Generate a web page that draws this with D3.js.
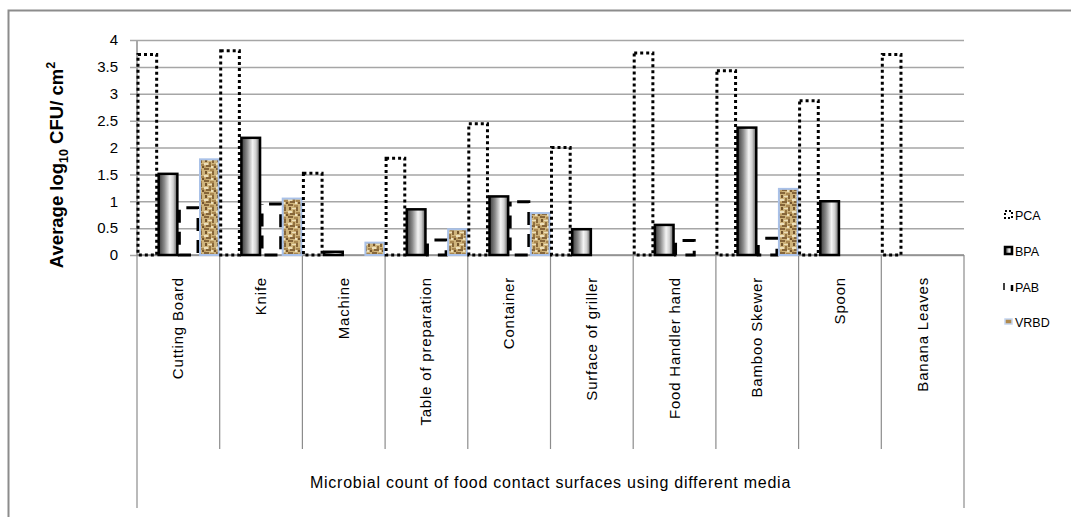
<!DOCTYPE html>
<html>
<head>
<meta charset="utf-8">
<script src="https://cdn.jsdelivr.net/npm/d3@7"></script>
<style>
  html, body { margin: 0; padding: 0; background: #fff; }
  svg { display: block; }
  text { font-family: "Liberation Sans", Arial, sans-serif; fill: #000; }
</style>
</head>
<body>
<svg id="chart" width="1071" height="517"></svg>
<script>
// Surfaces sampled
const categories = ["Cutting Board", "Knife", "Machine", "Table of preparation", "Container",
  "Surface of griller", "Food Handler hand", "Bamboo Skewer", "Spoon", "Banana Leaves"];

// Media
const seriesNames = ["PCA", "BPA", "PAB", "VRBD"];

// Average log10 CFU/cm2 per medium, one value per surface
const pcaValues  = [3.73, 3.80, 1.52, 1.80, 2.44, 2.00, 3.76, 3.43, 2.87, 3.73];
const bpaValues  = [1.51, 2.18, 0.06, 0.85, 1.09, 0.48, 0.56, 2.37, 1.00, 0.00];
const pabValues  = [0.88, 0.95, 0.00, 0.28, 0.99, 0.00, 0.27, 0.31, 0.00, 0.00];
const vrbdValues = [1.78, 1.05, 0.23, 0.48, 0.78, 0.00, 0.00, 1.23, 0.00, 0.00];

const yTicks = [0, 0.5, 1, 1.5, 2, 2.5, 3, 3.5, 4];
const xTitle = "Microbial count of food contact surfaces using different media";

const valuesBySeries = { PCA: pcaValues, BPA: bpaValues, PAB: pabValues, VRBD: vrbdValues };

const svg = d3.select("#chart");
const plot = { left: 137, right: 964, top: 40, bottom: 255 };

// outer frame
svg.append("rect")
  .attr("x", 8.5).attr("y", 10.5).attr("width", 1080).attr("height", 520)
  .attr("fill", "none").attr("stroke", "#8c8c8c").attr("stroke-width", 2);

const defs = svg.append("defs");

// metallic gradient for BPA
const grad = defs.append("linearGradient").attr("id", "bpaGrad")
  .attr("x1", "0%").attr("x2", "100%").attr("y1", "0%").attr("y2", "0%");
[[0, "#3a3a3a"], [0.3, "#8a8a8a"], [0.6, "#f4f4f4"], [0.78, "#d0d0d0"], [1, "#555"]]
  .forEach(([o, c]) => grad.append("stop").attr("offset", o).attr("stop-color", c));

// woven texture for VRBD
const pat = defs.append("pattern").attr("id", "vrbdPat")
  .attr("patternUnits", "userSpaceOnUse").attr("width", 12).attr("height", 12);
pat.append("rect").attr("width", 12).attr("height", 12).attr("fill", "#cfb47c");
const weave = [
  [0, 0, 5, 2, "#86663a"], [6, 1, 4, 2, "#a88650"], [1, 3, 2, 3, "#74552d"],
  [4, 4, 6, 1, "#ede0bc"], [8, 3, 2, 4, "#86663a"], [0, 7, 4, 2, "#ede0bc"],
  [5, 6, 2, 3, "#947340"], [2, 9, 5, 2, "#86663a"], [8, 8, 4, 2, "#a88650"],
  [10, 10, 2, 2, "#74552d"], [0, 10, 2, 2, "#c0a066"], [7, 10, 2, 2, "#ede0bc"]
];
weave.forEach(([x, y, w, h, c]) =>
  pat.append("rect").attr("x", x).attr("y", y).attr("width", w).attr("height", h).attr("fill", c));

const x = d3.scaleBand().domain(categories).range([plot.left, plot.right]).padding(0);
const xs = d3.scaleBand().domain(seriesNames).range([0, x.bandwidth()]).padding(0);
const y = d3.scaleLinear().domain([0, 4]).range([plot.bottom, plot.top]);

// gridlines and value axis
const yAxis = d3.axisLeft(y).tickValues(yTicks).tickSize(-(plot.right - plot.left))
  .tickPadding(12).tickFormat(d3.format("~g"));
const ga = svg.append("g").attr("transform", `translate(${plot.left},0)`).call(yAxis);
ga.select(".domain").attr("stroke", "#8c8c8c").attr("stroke-width", 1.5)
  .attr("d", `M0,${plot.top}V${plot.bottom}`);
ga.selectAll(".tick line").attr("stroke", "#a6a6a6").attr("stroke-width", 1.5).attr("x1", -7);
ga.selectAll(".tick text").attr("font-size", 15).attr("fill", "#333")
  .attr("font-family", "Liberation Sans, Arial, sans-serif").attr("x", -19);

// category box below the baseline
const boundaries = categories.map(c => x(c)).concat([plot.right]);
svg.append("g").selectAll("line").data(boundaries).join("line")
  .attr("x1", d => d).attr("x2", d => d)
  .attr("y1", plot.bottom)
  .attr("y2", (d, i) => (i === 0 || i === boundaries.length - 1) ? 508 : 449)
  .attr("stroke", "#8c8c8c").attr("stroke-width", 1.2);
svg.append("line").attr("x1", plot.left).attr("x2", plot.right)
  .attr("y1", plot.bottom).attr("y2", plot.bottom)
  .attr("stroke", "#8c8c8c").attr("stroke-width", 1.5);

// bars
const styles = {
  PCA:  { fill: "none", stroke: "#000", sw: 3, dash: "3,3", off: 0 },
  BPA:  { fill: "url(#bpaGrad)", stroke: "#000", sw: 2.5, dash: null, off: 0 },
  PAB:  { fill: "none", stroke: "#000", sw: 3, dash: "13,9", off: 15 },
  VRBD: { fill: "url(#vrbdPat)", stroke: "#a9c1e8", sw: 2, dash: null, off: 0 }
};
const barData = [];
categories.forEach((c, i) => seriesNames.forEach(s =>
  barData.push({ cat: c, series: s, value: valuesBySeries[s][i] })));

svg.append("g").selectAll("rect").data(barData.filter(d => d.value > 0)).join("rect")
  .attr("x", d => x(d.cat) + xs(d.series) + 1)
  .attr("width", xs.bandwidth() - 2)
  .attr("y", d => y(d.value))
  .attr("height", d => y(0) - y(d.value))
  .attr("fill", d => styles[d.series].fill)
  .attr("stroke", d => styles[d.series].stroke)
  .attr("stroke-width", d => styles[d.series].sw)
  .attr("stroke-dasharray", d => styles[d.series].dash)
  .attr("stroke-dashoffset", d => styles[d.series].off);

// category labels
svg.append("g").selectAll("text").data(categories).join("text")
  .attr("transform", d => `translate(${x(d) + x.bandwidth() / 2 + 5},277) rotate(-90)`)
  .attr("text-anchor", "end")
  .attr("font-size", 15)
  .attr("letter-spacing", 0.8)
  .text(d => d);

// axis title
svg.append("text").attr("x", (plot.left + plot.right) / 2).attr("y", 488)
  .attr("text-anchor", "middle").attr("font-size", 16).attr("letter-spacing", 0.75).text(xTitle);

// value axis title with subscript and superscript
const yt = svg.append("text")
  .attr("transform", "translate(63,165) rotate(-90)")
  .attr("text-anchor", "middle").attr("font-size", 18.5).attr("font-weight", "bold");
yt.append("tspan").text("Average log");
yt.append("tspan").attr("font-size", 12.5).attr("dy", 5).text("10");
yt.append("tspan").attr("dy", -5).text(" CFU/ cm");
yt.append("tspan").attr("font-size", 12.5).attr("dy", -8).text("2");

// legend
const legendY = [215, 251, 287, 322];
const lg = svg.append("g").selectAll("g").data(seriesNames).join("g")
  .attr("transform", (d, i) => `translate(1004,${legendY[i]})`);
lg.each(function (s) {
  const g = d3.select(this);
  if (s === "PCA") {
    g.append("rect").attr("x", 1).attr("y", -4).attr("width", 7).attr("height", 7)
      .attr("fill", "none").attr("stroke", "#000").attr("stroke-width", 2).attr("stroke-dasharray", "2,2");
  } else if (s === "BPA") {
    g.append("rect").attr("x", 1).attr("y", -4).attr("width", 7).attr("height", 7)
      .attr("fill", "url(#bpaGrad)").attr("stroke", "#000").attr("stroke-width", 2.5);
  } else if (s === "PAB") {
    g.append("line").attr("x1", 0).attr("x2", 0).attr("y1", -4).attr("y2", 3)
      .attr("stroke", "#000").attr("stroke-width", 1.5);
    g.append("line").attr("x1", 8).attr("x2", 8).attr("y1", -2).attr("y2", 4)
      .attr("stroke", "#000").attr("stroke-width", 2.5);
  } else {
    g.append("rect").attr("x", 1).attr("y", -3).attr("width", 7).attr("height", 5)
      .attr("fill", "#b08a4e").attr("stroke", "#c4d5f0").attr("stroke-width", 1.5);
  }
  g.append("text").attr("x", 11).attr("y", 5).attr("font-size", 12.5).text(s);
});
</script>
</body>
</html>
